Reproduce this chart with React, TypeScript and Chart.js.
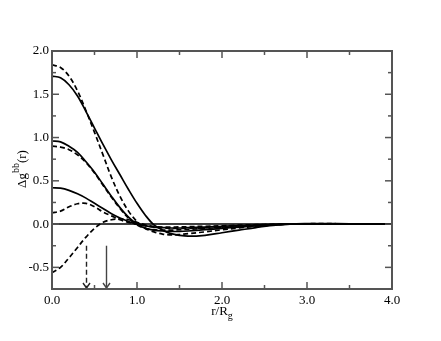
import React, { useEffect, useRef } from "react";
import { Chart, registerables } from "chart.js";

Chart.register(...registerables);

const R = [0, 0.1, 0.2, 0.3, 0.4, 0.5, 0.6, 0.7, 0.8, 0.9, 1.0, 1.1, 1.2, 1.3, 1.4, 1.5, 1.6, 1.8, 2.0, 2.2, 2.4, 2.6, 2.8, 3.0, 3.2, 3.5, 4.0];

const solidA = [1.71, 1.69, 1.61, 1.48, 1.30, 1.11, 0.92, 0.74, 0.57, 0.40, 0.24, 0.10, -0.01, -0.07, -0.11, -0.13, -0.14, -0.13, -0.10, -0.07, -0.04, -0.015, 0.0, 0.005, 0.006, 0.004, 0.0];
const dashedA = [1.84, 1.81, 1.71, 1.54, 1.31, 1.06, 0.80, 0.54, 0.32, 0.15, 0.03, -0.05, -0.09, -0.115, -0.125, -0.12, -0.11, -0.09, -0.065, -0.045, -0.025, -0.01, 0.0, 0.004, 0.005, 0.003, 0.0];
const solidB = [0.96, 0.95, 0.90, 0.83, 0.72, 0.60, 0.46, 0.32, 0.19, 0.08, 0.0, -0.05, -0.07, -0.08, -0.085, -0.085, -0.08, -0.065, -0.05, -0.035, -0.02, -0.008, 0.0, 0.003, 0.004, 0.002, 0.0];
const dashedB = [0.90, 0.89, 0.86, 0.80, 0.71, 0.59, 0.45, 0.31, 0.18, 0.07, -0.01, -0.05, -0.065, -0.07, -0.07, -0.065, -0.06, -0.05, -0.04, -0.03, -0.017, -0.006, 0.0, 0.003, 0.004, 0.002, 0.0];
const solidC = [0.42, 0.415, 0.39, 0.35, 0.30, 0.24, 0.18, 0.12, 0.07, 0.03, 0.0, -0.02, -0.035, -0.04, -0.045, -0.045, -0.04, -0.035, -0.025, -0.018, -0.01, -0.004, 0.0, 0.002, 0.002, 0.001, 0.0];
const dashedC = [0.13, 0.15, 0.20, 0.235, 0.24, 0.20, 0.14, 0.095, 0.05, 0.02, -0.005, -0.02, -0.03, -0.035, -0.035, -0.033, -0.03, -0.025, -0.02, -0.012, -0.007, -0.003, 0.0, 0.002, 0.002, 0.001, 0.0];
const dashedD = [-0.56, -0.50, -0.39, -0.27, -0.15, -0.05, 0.02, 0.05, 0.06, 0.05, 0.02, -0.01, -0.03, -0.045, -0.05, -0.05, -0.05, -0.045, -0.035, -0.025, -0.015, -0.006, 0.0, 0.002, 0.002, 0.001, 0.0];

const zeroLineR = [0, 4];
const arrowR = [0.4, 0.64];
const arrowDashed = [true, false];
const arrowTopValue = -0.25;

const X_MIN = 0, X_MAX = 4, Y_MIN = -0.75, Y_MAX = 2.0;
const xMajor = [0, 1, 2, 3, 4];
const xMinor = [0.5, 1.5, 2.5, 3.5];
const yMajor = [-0.5, 0, 0.5, 1.0, 1.5, 2.0];
const yMinor = [-0.75, -0.25, 0.25, 0.75, 1.25, 1.75];

const FONT = '"Liberation Serif", "Times New Roman", serif';

const toPts = (ys: number[]) => R.map((r, i) => ({ x: r, y: ys[i] }));

const decorPlugin = {
  id: "decor",
  afterDatasetsDraw(chart: any) {
    const { ctx, chartArea: a, scales } = chart;
    const xs = scales.x, ys = scales.y;
    ctx.save();
    const yTop = ys.getPixelForValue(arrowTopValue);
    const yBot = a.bottom;
    arrowR.forEach((r, i) => {
      const px = Math.round(xs.getPixelForValue(r)) + 0.5;
      ctx.strokeStyle = arrowDashed[i] ? "#222" : "#444";
      ctx.lineWidth = 1.4;
      ctx.setLineDash(arrowDashed[i] ? [5, 3] : []);
      ctx.beginPath();
      ctx.moveTo(px, yTop);
      ctx.lineTo(px, yBot - 1);
      ctx.stroke();
      ctx.setLineDash([]);
      ctx.beginPath();
      ctx.moveTo(px - 3.5, yBot - 6);
      ctx.lineTo(px, yBot - 1);
      ctx.lineTo(px + 3.5, yBot - 6);
      ctx.stroke();
    });
    ctx.strokeStyle = "#555";
    ctx.lineWidth = 2;
    ctx.strokeRect(a.left, a.top, a.right - a.left, a.bottom - a.top);
    ctx.lineWidth = 1.5;
    const tick = (x1: number, y1: number, x2: number, y2: number) => {
      ctx.beginPath();
      ctx.moveTo(x1, y1);
      ctx.lineTo(x2, y2);
      ctx.stroke();
    };
    xMajor.forEach((v) => {
      const p = xs.getPixelForValue(v);
      tick(p, a.bottom, p, a.bottom - 7);
      tick(p, a.top, p, a.top + 7);
    });
    xMinor.forEach((v) => {
      const p = xs.getPixelForValue(v);
      tick(p, a.bottom, p, a.bottom - 4);
      tick(p, a.top, p, a.top + 4);
    });
    yMajor.forEach((v) => {
      const p = ys.getPixelForValue(v);
      tick(a.left, p, a.left + 7, p);
      tick(a.right, p, a.right - 7, p);
    });
    yMinor.forEach((v) => {
      const p = ys.getPixelForValue(v);
      tick(a.left, p, a.left + 4, p);
      tick(a.right, p, a.right - 4, p);
    });
    ctx.restore();
  },
  afterDraw(chart: any) {
    const { ctx, chartArea: a } = chart;
    ctx.save();
    ctx.fillStyle = "#000";
    ctx.textBaseline = "alphabetic";
    const big = `13px ${FONT}`;
    const small = `10px ${FONT}`;
    ctx.font = big;
    const w1 = ctx.measureText("r/R").width;
    ctx.font = small;
    const w2 = ctx.measureText("g").width;
    const cx = (a.left + a.right) / 2;
    const sx = cx - (w1 + w2) / 2;
    const base = 315;
    ctx.font = big;
    ctx.textAlign = "left";
    ctx.fillText("r/R", sx, base);
    ctx.font = small;
    ctx.fillText("g", sx + w1, base + 4);
    ctx.translate(26, 169);
    ctx.rotate(-Math.PI / 2);
    ctx.font = big;
    const p1 = ctx.measureText("Δg").width;
    const p3 = ctx.measureText("(r)").width;
    ctx.font = small;
    const p2 = ctx.measureText("bb").width;
    const s = -(p1 + p2 + p3) / 2;
    ctx.font = big;
    ctx.fillText("Δg", s, 0);
    ctx.font = small;
    ctx.fillText("bb", s + p1, -7);
    ctx.font = big;
    ctx.fillText("(r)", s + p1 + p2, 0);
    ctx.restore();
  },
};

export default function App() {
  const ref = useRef<HTMLCanvasElement>(null);
  useEffect(() => {
    if (!ref.current) return;
    const solid = (d: number[]) => ({
      data: toPts(d),
      borderColor: "#000",
      borderWidth: 1.7,
      pointRadius: 0,
      tension: 0.35,
      fill: false,
    });
    const dashed = (d: number[]) => ({
      data: toPts(d),
      borderColor: "#000",
      borderWidth: 1.7,
      borderDash: [5, 3],
      pointRadius: 0,
      tension: 0.35,
      fill: false,
    });
    const chart = new Chart(ref.current, {
      type: "line",
      data: {
        datasets: [
          { data: zeroLineR.map((r) => ({ x: r, y: 0 })), borderColor: "#000", borderWidth: 1.5, pointRadius: 0, fill: false } as any,
          solid(solidA),
          dashed(dashedA),
          solid(solidB),
          dashed(dashedB),
          solid(solidC),
          dashed(dashedC),
          dashed(dashedD),
        ],
      },
      options: {
        animation: false,
        responsive: false,
        maintainAspectRatio: false,
        layout: { padding: { top: 51, right: 49, left: 0, bottom: 0 } },
        plugins: { legend: { display: false }, tooltip: { enabled: false }, title: { display: false } },
        scales: {
          x: {
            type: "linear",
            min: X_MIN,
            max: X_MAX,
            grid: { display: false, drawTicks: false },
            border: { display: false },
            ticks: {
              stepSize: 1,
              padding: 4,
              color: "#000",
              font: { family: FONT, size: 13 },
              maxRotation: 0,
              callback: (v: any) => Number(v).toFixed(1),
            },
            afterFit: (s: any) => { s.height = 52; },
          },
          y: {
            type: "linear",
            min: Y_MIN,
            max: Y_MAX,
            grid: { display: false, drawTicks: false },
            border: { display: false },
            ticks: {
              stepSize: 0.5,
              padding: 3,
              color: "#000",
              font: { family: FONT, size: 13 },
              callback: (v: any) => (yMajor.some((m) => Math.abs(m - Number(v)) < 1e-6) ? Number(v).toFixed(1) : ""),
            },
            afterFit: (s: any) => { s.width = 52; },
          },
        },
      } as any,
      plugins: [decorPlugin],
    });
    return () => chart.destroy();
  }, []);
  return (
    <div style={{ position: "fixed", left: 0, top: 0, width: 441, height: 341, background: "#fff" }}>
      <canvas ref={ref} width={441} height={341} style={{ width: 441, height: 341 }} />
    </div>
  );
}
